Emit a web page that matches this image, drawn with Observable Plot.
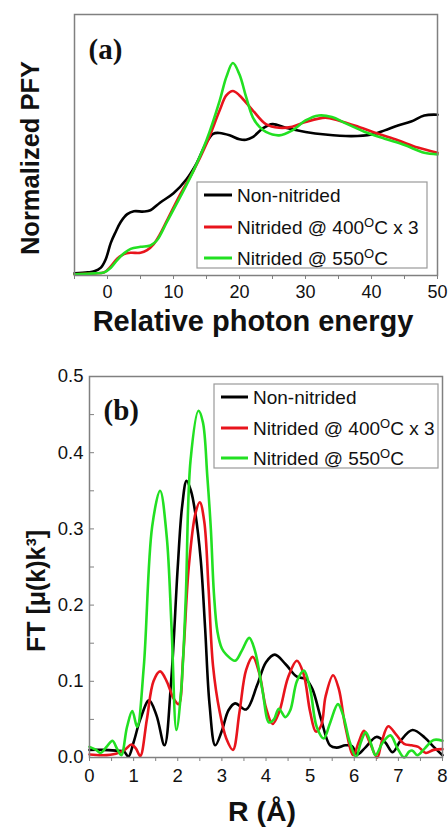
<!DOCTYPE html>
<html><head><meta charset="utf-8">
<script src="https://cdn.jsdelivr.net/npm/d3@7"></script>
<script src="https://cdn.jsdelivr.net/npm/@observablehq/plot@0.6"></script>
<style>
body{margin:0;background:#fff;}
#chart{position:relative;width:448px;height:827px;font-family:"Liberation Sans",Arial,sans-serif;}
#chart svg{display:block;position:absolute;left:0;}
</style></head><body><div id="chart"></div>
<script>
// ---------- shared ----------
const seriesNames = ["Non-nitrided", "Nitrided @ 400", "Nitrided @ 550"];
const seriesSup = ["", "O", "O"];
const seriesTail = ["", "C x 3", "C"];
const seriesColors = ["#000000", "#e8141c", "#22e022"];

// ---------- panel (a): Normalized PFY vs relative photon energy ----------
const aBlackX = [-5,-3,-2,-1,-0.3,0.5,1.2,2,3,4,5.5,6.5,8,10,12,13.5,15,16,17,18.5,20,21,22,23.5,25,27,30,33,37,40,42,44,46,48,50];
const aBlackY = [0.008,0.012,0.016,0.03,0.06,0.125,0.165,0.205,0.235,0.246,0.245,0.25,0.28,0.315,0.37,0.43,0.51,0.543,0.546,0.537,0.522,0.52,0.53,0.563,0.58,0.566,0.55,0.54,0.534,0.54,0.556,0.575,0.59,0.613,0.616];
const aRedX = [-5,-2,-0.5,0.5,1.5,2.5,3.5,5,6,7,8,9,11,13,15,17,18,19,20,22,24,26,28,30,33,35,38,41,44,47,50];
const aRedY = [0.005,0.008,0.012,0.035,0.065,0.082,0.087,0.087,0.097,0.12,0.16,0.21,0.31,0.40,0.505,0.633,0.69,0.707,0.69,0.633,0.58,0.566,0.57,0.588,0.605,0.594,0.57,0.543,0.518,0.49,0.47];
const aGreenX = [-5,-2,-0.5,0.5,1.5,2.5,3.5,5,6.5,7.5,9,11,13,15,17,18,19,20,21,22,23,24,26,28,30,32,34,36,39,42,45,48,50];
const aGreenY = [0.005,0.008,0.012,0.03,0.06,0.085,0.102,0.11,0.115,0.135,0.205,0.30,0.40,0.518,0.67,0.76,0.814,0.77,0.684,0.607,0.57,0.55,0.537,0.556,0.594,0.613,0.607,0.584,0.55,0.524,0.50,0.47,0.464];
const aXTicks = [-5,0,5,10,15,20,25,30,35,40,45,50];
const aXLabelTicks = [0,10,20,30,40,50];

// ---------- panel (b): FT magnitude vs R ----------
const bBlackX = [0,0.3,0.6,0.78,0.88,1.0,1.15,1.35,1.52,1.7,1.85,2.0,2.1,2.2,2.3,2.4,2.52,2.62,2.72,2.85,3.0,3.15,3.3,3.55,3.8,4.0,4.2,4.45,4.7,4.9,5.05,5.25,5.45,5.6,5.8,5.95,6.07,6.25,6.5,6.7,6.87,7.05,7.32,7.6,7.8,8.0];
const bBlackY = [0.01,0.01,0.009,0.008,0.001,0.02,0.05,0.075,0.055,0.016,0.1,0.25,0.33,0.363,0.35,0.32,0.26,0.17,0.07,0.016,0.035,0.062,0.071,0.063,0.095,0.125,0.135,0.122,0.106,0.103,0.09,0.05,0.016,0.013,0.016,0.015,0.004,0.013,0.027,0.02,0.007,0.022,0.036,0.026,0.014,0.003];
const bRedX = [0,0.3,0.6,0.8,0.95,1.05,1.15,1.3,1.45,1.6,1.75,1.9,2.02,2.12,2.25,2.4,2.5,2.6,2.7,2.8,2.95,3.1,3.25,3.4,3.55,3.7,3.85,4.0,4.15,4.3,4.5,4.7,4.85,5.0,5.13,5.25,5.35,5.52,5.65,5.8,5.98,6.1,6.22,6.35,6.52,6.62,6.77,6.95,7.13,7.3,7.45,7.62,7.8,8.0];
const bRedY = [0.004,0.003,0.005,0.01,0.017,0.012,0.002,0.05,0.1,0.113,0.1,0.078,0.07,0.13,0.25,0.32,0.335,0.31,0.22,0.12,0.06,0.025,0.01,0.06,0.115,0.132,0.11,0.065,0.044,0.06,0.105,0.127,0.11,0.06,0.034,0.042,0.08,0.108,0.09,0.04,0.003,0.02,0.035,0.02,0.0,0.02,0.041,0.03,0.018,0.016,0.014,0.006,0.01,0.011];
const bGreenX = [0,0.15,0.25,0.4,0.52,0.62,0.72,0.85,0.97,1.08,1.23,1.42,1.6,1.75,1.86,1.97,2.08,2.18,2.29,2.47,2.57,2.67,2.75,2.82,2.9,3.0,3.1,3.3,3.45,3.62,3.75,3.92,4.07,4.18,4.29,4.44,4.55,4.7,4.86,5.0,5.15,5.31,5.45,5.63,5.75,5.9,6.04,6.15,6.26,6.38,6.48,6.65,6.82,6.98,7.13,7.25,7.32,7.43,7.6,7.8,8.0];
const bGreenY = [0.014,0.01,0.006,0.015,0.022,0.012,0.003,0.04,0.061,0.04,0.119,0.303,0.35,0.29,0.17,0.036,0.09,0.207,0.39,0.455,0.44,0.369,0.3,0.215,0.165,0.143,0.135,0.127,0.14,0.157,0.14,0.088,0.046,0.05,0.064,0.053,0.062,0.1,0.114,0.09,0.04,0.025,0.045,0.07,0.055,0.02,0.001,0.02,0.033,0.018,0.003,0.02,0.029,0.012,0.0,0.008,0.009,0.003,0.012,0.023,0.022];
const bXTicks = [0,0.5,1,1.5,2,2.5,3,3.5,4,4.5,5,5.5,6,6.5,7,7.5,8];
const bXLabelTicks = [0,1,2,3,4,5,6,7,8];
const bYTicks = [0,0.05,0.1,0.15,0.2,0.25,0.3,0.35,0.4,0.45,0.5];
const bYLabelTicks = [0,0.1,0.2,0.3,0.4,0.5];

const zip = (xs, ys) => xs.map((x, i) => ({x, y: ys[i]}));
const font = '"Liberation Sans", Arial, sans-serif';
const serif = '"Liberation Serif", "Times New Roman", serif';
const frameColor = "#808080";

function lines(sets) {
  return sets.map((d, i) => Plot.line(d, {x: "x", y: "y", stroke: seriesColors[i], strokeWidth: 2.6, curve: "catmull-rom"}));
}

function legend(svg, box, rows, textX, lineX1, lineX2) {
  const g = d3.select(svg).append("g").attr("text-anchor", "start");
  g.append("rect").attr("x", box[0]).attr("y", box[1]).attr("width", box[2]).attr("height", box[3])
    .attr("fill", "#fff").attr("stroke", "#9a9a9a").attr("stroke-width", 1.2);
  seriesNames.forEach((name, i) => {
    const y = rows[i];
    g.append("line").attr("x1", lineX1).attr("x2", lineX2).attr("y1", y).attr("y2", y)
      .attr("stroke", seriesColors[i]).attr("stroke-width", 3);
    const t = g.append("text").attr("x", textX).attr("y", y).attr("dy", "0.36em")
      .attr("text-anchor", "start")
      .attr("font-family", font).attr("font-size", 19).attr("fill", "#111");
    t.append("tspan").text(name);
    if (seriesSup[i]) {
      t.append("tspan").attr("font-size", 13).attr("dy", -7).text(seriesSup[i]);
      t.append("tspan").attr("dy", 7).text(seriesTail[i]);
    }
  });
}

const container = document.getElementById("chart");

// Panel (a)
const plotA = Plot.plot({
  width: 448, height: 345,
  marginLeft: 74, marginRight: 11, marginTop: 14, marginBottom: 70,
  x: {domain: [-5, 50]},
  y: {domain: [0, 1], axis: null},
  style: {fontFamily: font, fontSize: "18px", color: "#111", background: "#fff", overflow: "visible"},
  marks: [
    Plot.axisX({ticks: aXTicks, fill: "none", tickSize: 4, label: null, stroke: frameColor}),
    Plot.axisX({ticks: aXLabelTicks, tickSize: 0, tickPadding: 10, label: null}),
    ...lines([zip(aBlackX, aBlackY), zip(aRedX, aRedY), zip(aGreenX, aGreenY)]),
    Plot.frame({stroke: frameColor, strokeWidth: 1.5}),
    Plot.text(["(a)"], {frameAnchor: "top-left", dx: 14, dy: 35, textAnchor: "start", lineAnchor: "middle", fontFamily: serif, fontWeight: "bold", fontSize: 29, fill: "#111"}),
    Plot.text(["Relative photon energy"], {frameAnchor: "bottom", dx: -3, dy: 46, textAnchor: "middle", lineAnchor: "middle", fontWeight: "bold", fontSize: 29, fill: "#111"}),
    Plot.text(["Normalized PFY"], {frameAnchor: "left", dx: -44, dy: 13, rotate: -90, textAnchor: "middle", lineAnchor: "middle", fontWeight: "bold", fontSize: 25.5, fill: "#111"})
  ]
});
plotA.style.top = "0px";
container.appendChild(plotA);
legend(plotA, [197, 182, 230, 86], [195, 227, 258], 237, 204, 232);

// Panel (b)
const plotB = Plot.plot({
  width: 448, height: 482,
  marginLeft: 89, marginRight: 6, marginTop: 31, marginBottom: 70,
  x: {domain: [0, 8]},
  y: {domain: [0, 0.5]},
  style: {fontFamily: font, fontSize: "18.5px", color: "#111", background: "transparent", overflow: "visible"},
  marks: [
    Plot.axisX({ticks: bXTicks, fill: "none", tickSize: 4, label: null, stroke: frameColor}),
    Plot.axisX({ticks: bXLabelTicks, tickSize: 0, tickPadding: 11, label: null}),
    Plot.axisY({ticks: bYLabelTicks, tickFormat: d3.format(".1f"), tickSize: 0, tickPadding: 6, label: null}),
    Plot.axisY({ticks: bYTicks, fill: "none", tickSize: 5, dx: 5, label: null, stroke: frameColor}),
    ...lines([zip(bBlackX, bBlackY), zip(bRedX, bRedY), zip(bGreenX, bGreenY)]),
    Plot.frame({stroke: frameColor, strokeWidth: 1.5}),
    Plot.text(["(b)"], {frameAnchor: "top-left", dx: 14, dy: 34, textAnchor: "start", lineAnchor: "middle", fontFamily: serif, fontWeight: "bold", fontSize: 29, fill: "#111"}),
    Plot.text(["R (Å)"], {frameAnchor: "bottom", dx: -4, dy: 54, textAnchor: "middle", lineAnchor: "middle", fontWeight: "bold", fontSize: 28.5, fill: "#111"}),
    Plot.text(["FT [μ(k)k³]"], {frameAnchor: "left", dx: -53, dy: 24, rotate: -90, textAnchor: "middle", lineAnchor: "middle", fontWeight: "bold", fontSize: 25, fill: "#111"})
  ]
});
plotB.style.top = "345px";
container.appendChild(plotB);
legend(plotB, [214, 39, 224, 84], [52, 83, 113], 253, 221, 248);
</script>
</body></html>
